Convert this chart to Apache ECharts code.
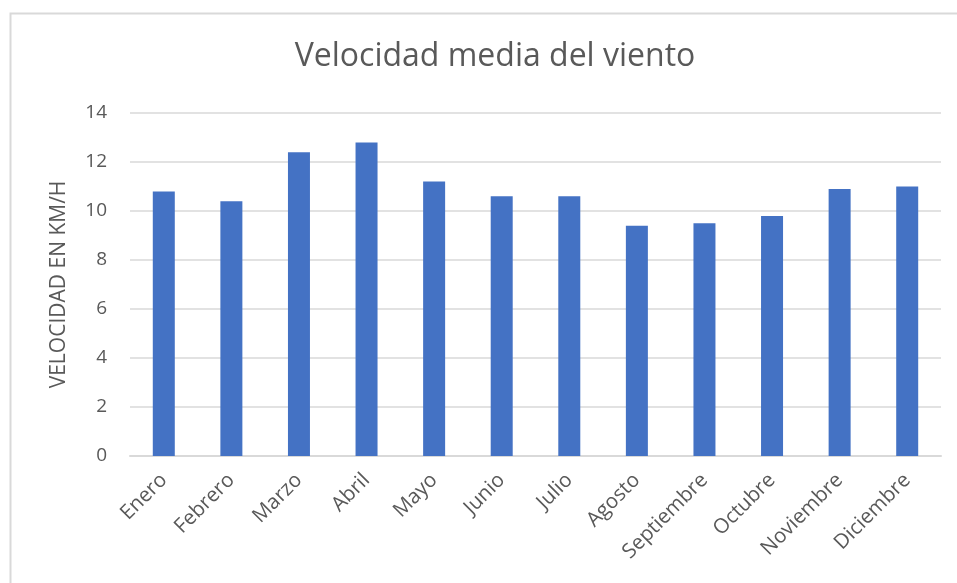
<!DOCTYPE html>
<html>
<head>
<meta charset="utf-8">
<script src="https://cdn.jsdelivr.net/npm/echarts@6/dist/echarts.min.js"></script>
<style>
  html, body { margin: 0; padding: 0; background: #fff; }
  #chart { width: 957px; height: 583px; }
</style>
</head>
<body>
<div id="chart"></div>
<script>
var meses = ['Enero', 'Febrero', 'Marzo', 'Abril', 'Mayo', 'Junio', 'Julio', 'Agosto', 'Septiembre', 'Octubre', 'Noviembre', 'Diciembre'];
var velocidad = [10.8, 10.4, 12.4, 12.8, 11.2, 10.6, 10.6, 9.4, 9.5, 9.8, 10.9, 11.0];

var chart = echarts.init(document.getElementById('chart'));
var option = {
    animation: false,
    textStyle: { fontFamily: 'Open Sans' },
    graphic: [{
        type: 'rect',
        shape: { x: 10.5, y: 13.5, width: 960, height: 600 },
        style: { fill: 'none', stroke: '#d9d9d9', lineWidth: 2 },
        silent: true
    }],
    title: {
        text: 'Velocidad media del viento',
        left: 490,
        textAlign: 'center',
        top: 36,
        textStyle: { color: '#595959', fontSize: 32, fontWeight: 'normal', fontFamily: 'Open Sans' }
    },
    grid: { left: 130, right: 16, top: 113, bottom: 127 },
    xAxis: {
        type: 'category',
        data: meses,
        axisLine: { lineStyle: { color: '#d9d9d9', width: 2 } },
        axisTick: { show: false },
        axisLabel: { rotate: 45, color: '#595959', fontSize: 20.5, margin: 21, interval: 0 }
    },
    yAxis: {
        type: 'value',
        min: 0,
        max: 14,
        interval: 2,
        name: 'VELOCIDAD EN KM/H',
        nameLocation: 'middle',
        nameGap: 60,
        nameRotate: 90,
        nameTextStyle: { color: '#595959', fontSize: 21 },
        axisLine: { show: false },
        axisTick: { show: false },
        axisLabel: { color: '#595959', fontSize: 19, margin: 23 },
        splitLine: { lineStyle: { color: '#d9d9d9', width: 1.5 } }
    },
    series: [{
        name: 'Velocidad',
        type: 'bar',
        data: velocidad,
        barWidth: 22,
        itemStyle: { color: '#4472c4' }
    }]
};
chart.setOption(option);
</script>
</body>
</html>
